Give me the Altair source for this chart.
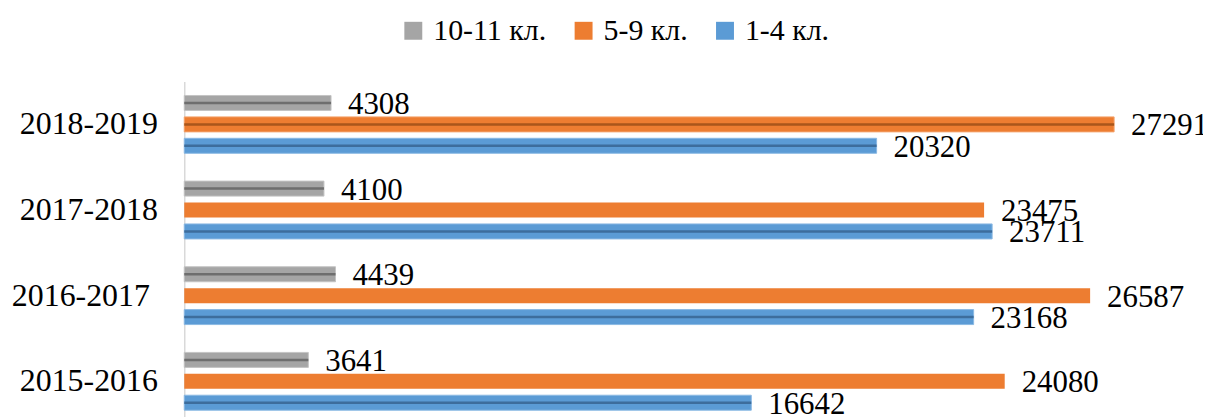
import altair as alt
import pandas as pd

years = ["2018-2019", "2017-2018", "2016-2017", "2015-2016"]
series = ["10-11 кл.", "5-9 кл.", "1-4 кл."]
v_10_11 = [4308, 4100, 4439, 3641]
v_5_9 = [27291, 23475, 26587, 24080]
v_1_4 = [20320, 23711, 23168, 16642]
colors = ["#a5a5a5", "#ed7d31", "#5b9bd5"]
edge_colors = ["#c4c4c4", "#f4a26b", "#8ab8e3"]
inner_colors = ["#6e6e6e", "#a9561b", "#3d6d9c"]
bevelled_5_9 = ["2018-2019"]

rows = []
for s, vals in zip(series, [v_10_11, v_5_9, v_1_4]):
    for y, v in zip(years, vals):
        bevel = (s != "5-9 кл.") or (y in bevelled_5_9)
        rows.append({"year": y, "series": s, "value": v, "bevel": bevel})
df = pd.DataFrame(rows)

FONT = "Liberation Serif"

y_enc = alt.Y(
    "year:N", sort=years,
    scale=alt.Scale(paddingInner=0, paddingOuter=0),
    axis=alt.Axis(title=None, labelFont=FONT, labelFontSize=32, labelColor="black",
                  ticks=False, tickSize=0, labelPadding=27, domainColor="#d9d9d9",
                  domainWidth=1.5, grid=False,
                  labelExpr="datum.value == '2016-2017' ? '2016-2017 \u200b' : datum.label"),
)
yoff = alt.YOffset("series:N", sort=series,
                   scale=alt.Scale(paddingInner=0.3, paddingOuter=0.65))
x_enc = alt.X("value:Q", scale=alt.Scale(domain=[0, 29900], nice=False), axis=None)

base = alt.Chart(df).encode(y=y_enc, yOffset=yoff, x=x_enc)

bars = base.mark_bar(strokeWidth=1).encode(
    color=alt.Color(
        "series:N", sort=series,
        scale=alt.Scale(domain=series, range=colors),
        legend=alt.Legend(
            title=None, orient="none", direction="horizontal", legendX=215, legendY=-66,
            symbolType="square", symbolSize=324, symbolStrokeWidth=0,
            labelFont=FONT, labelFontSize=30, labelColor="black", labelOffset=5,
            columnPadding=22,
        ),
    ),
    stroke=alt.condition(
        "datum.bevel",
        alt.Stroke("series:N", sort=series,
                   scale=alt.Scale(domain=series, range=edge_colors), legend=None),
        alt.value(None),
    ),
)

inner = base.transform_filter("datum.bevel").mark_bar(size=2.5, yOffset=3).encode(
    color=alt.Color("series:N", sort=series,
                    scale=alt.Scale(domain=series, range=inner_colors), legend=None),
)

labels = base.mark_text(align="left", baseline="middle", dx=17, dy=2,
                        font=FONT, fontSize=31, color="black").encode(text="value:Q")

chart = alt.layer(bars, inner, labels).resolve_scale(color="independent").properties(
    width=1023, height=344,
    autosize="none",
    padding={"left": 177, "top": 73, "right": 0, "bottom": 0},
).configure(font=FONT).configure_view(stroke=None).configure_legend(
    labelFont=FONT, labelFontSize=30, labelColor="black"
)

chart.save("out.html", embed_options={"renderer": "svg", "actions": False})
